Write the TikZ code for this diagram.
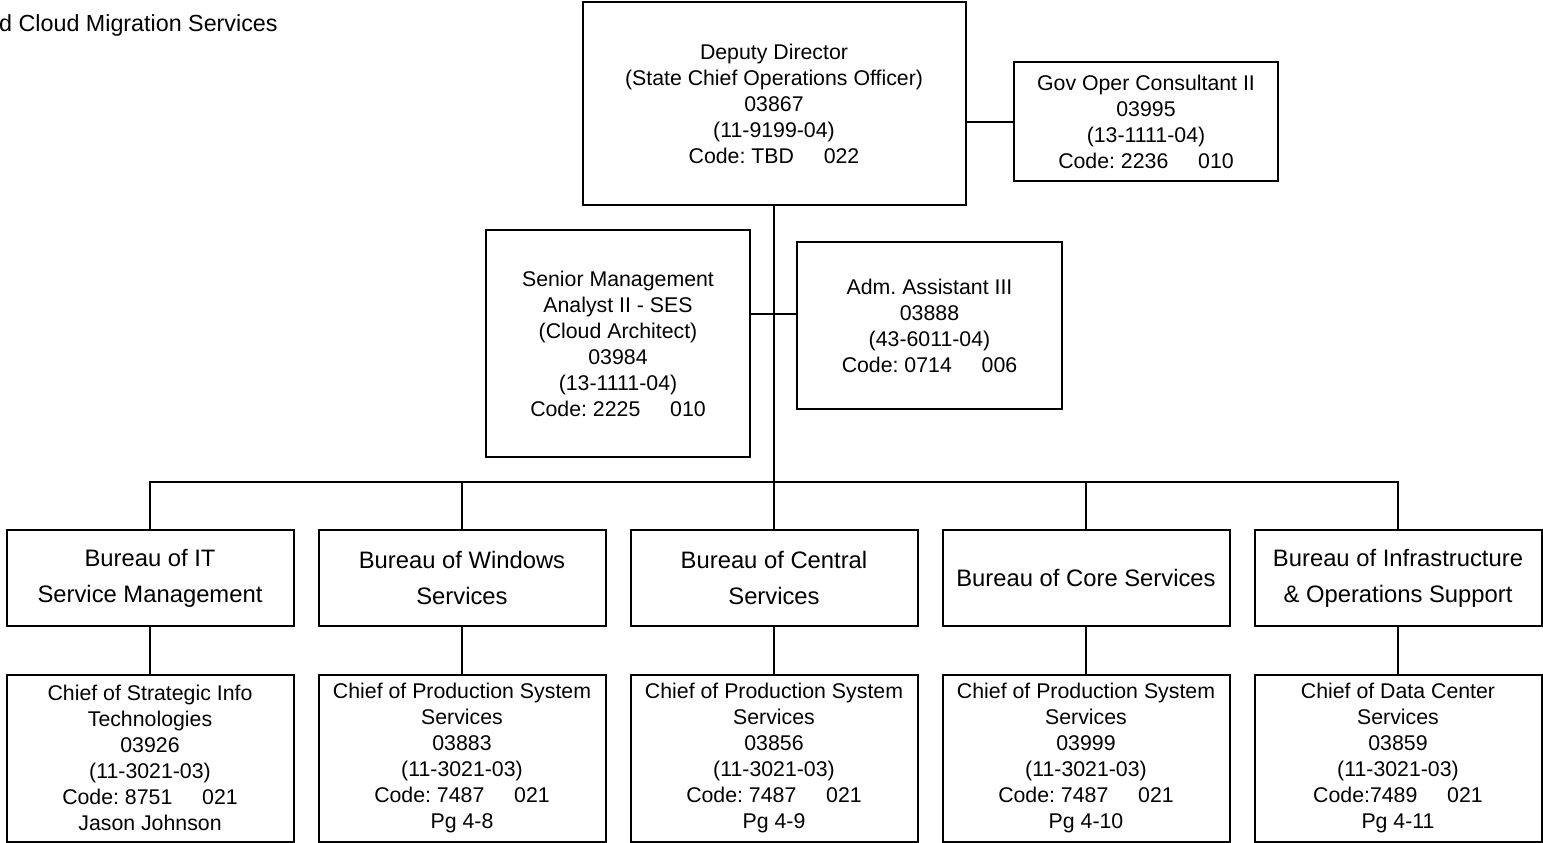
\documentclass[tikz,border=0pt]{standalone}
\usepackage{fontspec}
\setmainfont{Liberation Sans}
\frenchspacing
\begin{document}
\begin{tikzpicture}[x=1pt,y=-1pt,
  box/.style={draw, line width=2pt, align=center, inner sep=0pt,
    font=\fontsize{21.3}{26}\selectfont},
  bureau/.style={box, minimum width=287pt, minimum height=96pt,
    font=\fontsize{23.8}{36}\selectfont},
  chief/.style={box, minimum width=287pt, minimum height=167pt},
  link/.style={line width=2pt}]
\useasboundingbox (0,0) rectangle (1543,843);
\newcommand{\gap}{\hspace{1.4em}}

% heading
\node[anchor=west, inner sep=0pt, font=\fontsize{23.3}{26}\selectfont] (title) at (-1,25) {d Cloud Migration Services};

% directorate
\node[box, minimum width=383pt, minimum height=203pt] (dd) at (774,103.5)
  {Deputy Director\\(State Chief Operations Officer)\\03867\\(11-9199-04)\\Code: TBD\gap022};
\node[box, minimum width=264pt, minimum height=119pt] (gov) at (1146,121.5)
  {Gov Oper Consultant II\\03995\\(13-1111-04)\\Code: 2236\gap010};
\node[box, minimum width=264pt, minimum height=227pt] (sma) at (618,343.5)
  {Senior Management\\Analyst II - SES\\(Cloud Architect)\\03984\\(13-1111-04)\\Code: 2225\gap010};
\node[box, minimum width=265pt, minimum height=167pt] (adm) at (929.5,325.5)
  {Adm. Assistant III\\03888\\(43-6011-04)\\Code: 0714\gap006};

% bureaus
\node[bureau] (b1) at (150,578) {Bureau of IT\\Service Management};
\node[bureau] (b2) at (462,578) {Bureau of Windows\\Services};
\node[bureau] (b3) at (774,578) {Bureau of Central\\Services};
\node[bureau] (b4) at (1086,578) {Bureau of Core Services};
\node[bureau] (b5) at (1398,578) {Bureau of Infrastructure\\\& Operations Support};

% chiefs
\node[chief] (c1) at (150,758) {Chief of Strategic Info\\Technologies\\03926\\(11-3021-03)\\Code: 8751\gap021\\Jason Johnson};
\node[chief] (c2) at (462,758) {Chief of Production System\\Services\\03883\\(11-3021-03)\\Code: 7487\gap021\\Pg 4-8};
\node[chief] (c3) at (774,758) {Chief of Production System\\Services\\03856\\(11-3021-03)\\Code: 7487\gap021\\Pg 4-9};
\node[chief] (c4) at (1086,758) {Chief of Production System\\Services\\03999\\(11-3021-03)\\Code: 7487\gap021\\Pg 4-10};
\node[chief] (c5) at (1398,758) {Chief of Data Center\\Services\\03859\\(11-3021-03)\\Code:7489\gap021\\Pg 4-11};

% connectors
\coordinate (bus) at (774,482);
\draw[link] (dd.south) -- (bus);
\draw[link] (dd.east |- gov.west) -- (gov.west);
\draw[link] (sma.east |- 0,314) -- (adm.west |- 0,314);
\draw[link] (b1.north) |- (bus) -| (b5.north);
\foreach \b in {b2,b3,b4} \draw[link] (\b.north) -- (\b.north |- bus);
\foreach \i in {1,...,5} \draw[link] (b\i.south) -- (c\i.north);
\end{tikzpicture}
\end{document}
